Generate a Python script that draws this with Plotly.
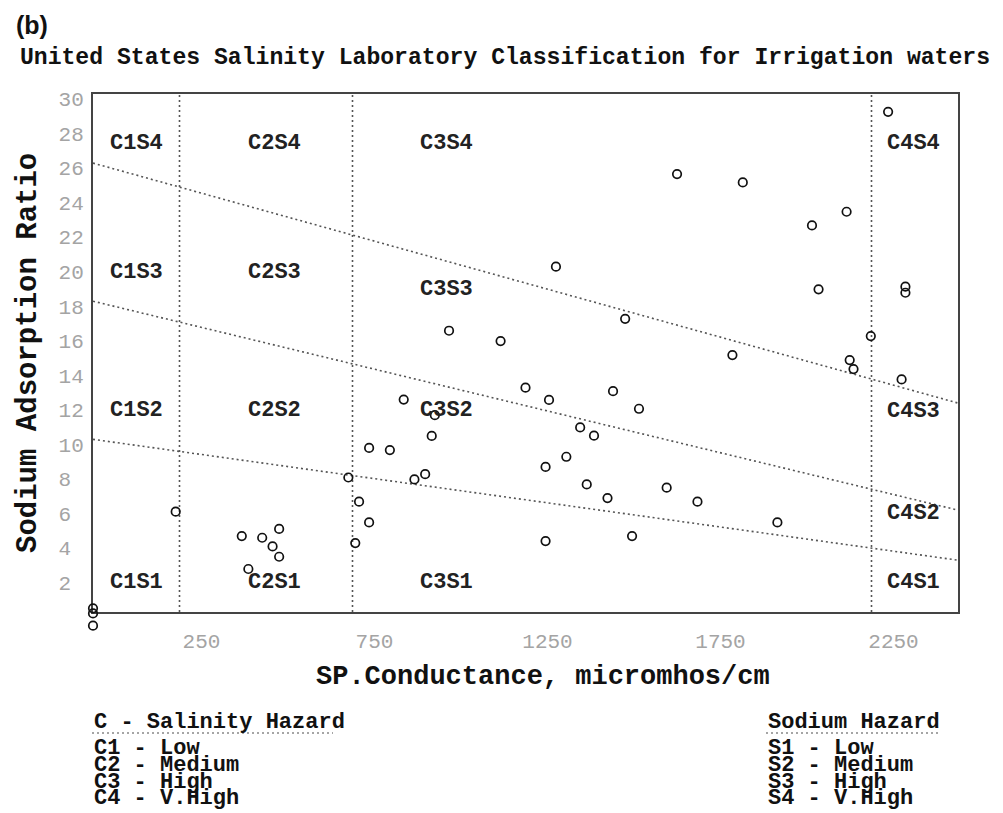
import plotly.graph_objects as go

# ---------------- data ----------------
ec = [0, 0, 0, 239, 430, 449, 489, 519, 538, 538,
      738, 758, 769, 798, 798, 858, 898, 929, 960, 979,
      988, 1029, 1178, 1250, 1308, 1308, 1318, 1338, 1368, 1408,
      1427, 1448, 1487, 1503, 1538, 1558, 1578, 1658, 1688, 1747,
      1848, 1878, 1978, 2078, 2097, 2178, 2187, 2198, 2248, 2298,
      2337, 2348, 2348]
sar = [0.21, -0.08, -0.79, 5.81, 4.40, 2.49, 4.30, 3.80, 4.81, 3.20,
       7.79, 3.99, 6.39, 5.19, 9.50, 9.38, 12.30, 7.68, 7.98, 10.20,
       11.40, 16.29, 15.69, 12.99, 8.40, 4.11, 12.28, 20.00, 8.99, 10.69,
       7.39, 10.21, 6.60, 12.79, 16.98, 4.40, 11.77, 7.20, 25.36, 6.39,
       14.88, 24.88, 5.19, 22.39, 18.69, 23.18, 14.59, 14.07, 15.98, 28.97,
       13.47, 18.84, 18.49]

boundary_x = [0, 2500]
s1_s2 = [10.0, 3.0]
s2_s3 = [18.0, 5.9]
s3_s4 = [26.0, 12.1]
salinity_bounds = [250, 750, 2250]

x_tickvals = [250, 750, 1250, 1750, 2250]
x_ticktext = ["250", "750", "1250", "1750", "2250"]
y_tickvals = [2, 4, 6, 8, 10, 12, 14, 16, 18, 20, 22, 24, 26, 28, 30]
y_ticktext = [str(v) if v >= 10 else str(v) + "\u00a0" for v in y_tickvals]

region_labels = ["C1S4", "C2S4", "C3S4", "C4S4",
                 "C1S3", "C2S3", "C3S3", "C4S3",
                 "C1S2", "C2S2", "C3S2", "C4S2",
                 "C1S1", "C2S1", "C3S1", "C4S1"]

salinity_legend = ["C - Salinity Hazard", "C1 - Low", "C2 - Medium", "C3 - High", "C4 - V.High"]
sodium_legend = ["Sodium Hazard", "S1 - Low", "S2 - Medium", "S3 - High", "S4 - V.High"]

# ---------------- layout constants ----------------
W, H = 1003, 813
L, R, T, B = 93, 958, 94, 612          # frame of the SAR 0..30 axis
EXTRA = 30                              # room below the axis for points under 0
BB = B + EXTRA                          # bottom of the whole plotting area
PW, PH = R - L, BB - T
Y_MAX = 30.0
PX_PER_UNIT = (B - T) / Y_MAX
MONO = "Liberation Mono"
LINE_COL = "#555555"
DOT = "2px,3px"
CLEAR = "rgba(0,0,0,0)"

def px_x(p):
    return (p - L) / PW

def px_y(p):
    return (BB - p) / PH

region_pos = {
    "C1S4": (126, 27.16), "C2S4": (525, 27.16), "C3S4": (1022, 27.16), "C4S4": (2372, 27.16),
    "C1S3": (126, 19.69), "C2S3": (525, 19.69), "C3S3": (1022, 18.65), "C4S3": (2372, 11.64),
    "C1S2": (126, 11.66), "C2S2": (525, 11.66), "C3S2": (1022, 11.66), "C4S2": (2372, 5.71),
    "C1S1": (126, 1.70), "C2S1": (525, 1.70), "C3S1": (1022, 1.70), "C4S1": (2372, 1.70),
}

fig = go.Figure()

for yy in (s1_s2, s2_s3, s3_s4):
    fig.add_trace(go.Scatter(x=boundary_x, y=yy, mode="lines",
                             line=dict(color=LINE_COL, width=1.6, dash=DOT),
                             hoverinfo="skip", showlegend=False))
for xb in salinity_bounds:
    fig.add_trace(go.Scatter(x=[xb, xb], y=[0, Y_MAX], mode="lines",
                             line=dict(color=LINE_COL, width=1.6, dash=DOT),
                             hoverinfo="skip", showlegend=False))

# points go on an invisible twin y axis with the same scale that also covers
# the strip under the SAR axis, so that values below 0 stay visible
fig.add_trace(go.Scatter(x=ec, y=sar, mode="markers", yaxis="y2",
                         marker=dict(symbol="circle-open", size=8.5, color="#111111",
                                     line=dict(width=1.7, color="#111111")),
                         cliponaxis=False, showlegend=False))

annotations = []
for lab in region_labels:
    xx, yy = region_pos[lab]
    annotations.append(dict(x=xx, y=yy, xref="x", yref="y", text=lab, showarrow=False,
                            xanchor="center", yanchor="middle",
                            font=dict(family=MONO, size=22, color="#222222", weight="bold")))

annotations.append(dict(x=px_x(14), y=px_y(25), xref="paper", yref="paper", text="(b)",
                        showarrow=False, xanchor="left", yanchor="middle",
                        font=dict(family="Liberation Sans", size=25, color="#111111", weight="bold")))
annotations.append(dict(x=px_x(543), y=px_y(677), xref="paper", yref="paper",
                        text="SP.Conductance, micromhos/cm", showarrow=False,
                        xanchor="center", yanchor="middle",
                        font=dict(family=MONO, size=27, color="#111111", weight="bold")))
annotations.append(dict(x=px_x(28), y=px_y((T + B) / 2), xref="paper", yref="paper",
                        text="Sodium Adsorption Ratio", showarrow=False, textangle=-90,
                        xanchor="center", yanchor="middle",
                        font=dict(family=MONO, size=29, color="#111111", weight="bold")))

legend_rows = [722, 748, 765, 782, 798]
for txt, yp in zip(salinity_legend, legend_rows):
    annotations.append(dict(x=px_x(92), y=px_y(yp), xref="paper", yref="paper", text=txt,
                            showarrow=False, xanchor="left", yanchor="middle",
                            font=dict(family=MONO, size=22, color="#111111", weight="bold")))
for txt, yp in zip(sodium_legend, legend_rows):
    annotations.append(dict(x=px_x(766), y=px_y(yp), xref="paper", yref="paper", text=txt,
                            showarrow=False, xanchor="left", yanchor="middle",
                            font=dict(family=MONO, size=22, color="#111111", weight="bold")))

shapes = [
    dict(type="line", xref="paper", yref="paper", x0=px_x(92), x1=px_x(333),
         y0=px_y(733), y1=px_y(733), line=dict(color="#888888", width=1.5, dash=DOT)),
    dict(type="line", xref="paper", yref="paper", x0=px_x(766), x1=px_x(940),
         y0=px_y(733), y1=px_y(733), line=dict(color="#888888", width=1.5, dash=DOT)),
]

fig.update_layout(
    width=W, height=H,
    margin=dict(l=L, r=W - R, t=T, b=H - BB, pad=0),
    paper_bgcolor="white", plot_bgcolor=CLEAR,
    title=dict(text="United States Salinity Laboratory Classification for Irrigation waters",
               x=505 / W, xref="container", xanchor="center",
               y=1 - 56 / H, yref="container", yanchor="middle",
               font=dict(family=MONO, size=23.1, color="#111111", weight="bold")),
    xaxis=dict(range=[0, 2500], showgrid=False, zeroline=False, anchor="y",
               showline=True, mirror=True, linecolor="#444444", linewidth=2,
               tickmode="array", tickvals=x_tickvals, ticktext=x_ticktext, ticks="",
               ticklabelshift=22, ticklabelstandoff=9,
               tickfont=dict(family=MONO, size=21, color="#a4a4a4")),
    yaxis=dict(range=[0, Y_MAX], domain=[EXTRA / PH, 1], showgrid=False, zeroline=False,
               showline=True, mirror=True, linecolor="#444444", linewidth=2,
               tickmode="array", tickvals=y_tickvals, ticktext=y_ticktext, ticks="",
               ticklabelshift=5, ticklabelstandoff=3,
               tickfont=dict(family=MONO, size=21, color="#a4a4a4")),
    yaxis2=dict(range=[-EXTRA / PX_PER_UNIT, Y_MAX], domain=[0, 1], anchor="x",
                visible=False, showgrid=False, zeroline=False),
    annotations=annotations,
    shapes=shapes,
    showlegend=False,
)

fig.write_html("out.html")
